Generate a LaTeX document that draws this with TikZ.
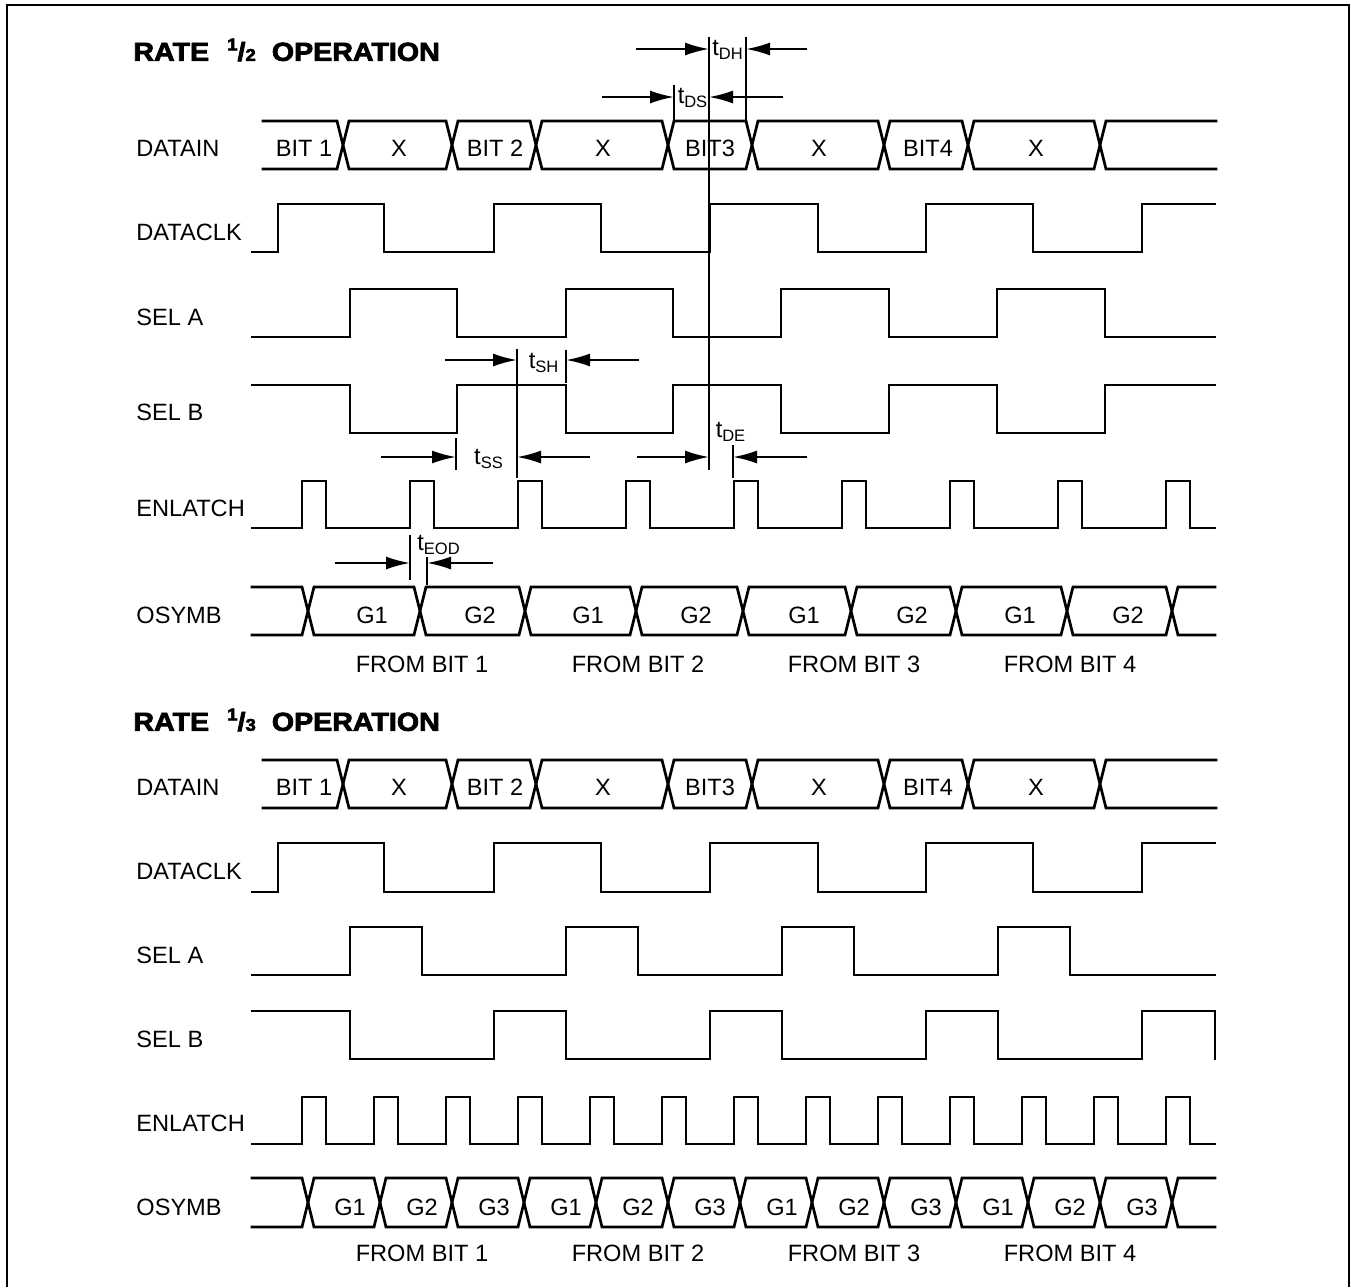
\documentclass[tikz,border=0pt]{standalone}
\usepackage{fontspec}
\setmainfont{Liberation Sans}
\newfontfamily\headfont{Liberation Sans}[BoldFeatures={FakeBold=3,FakeStretch=1.1}]
\usetikzlibrary{arrows.meta}

\begin{document}
\begin{tikzpicture}[x=0.5pt, y=-0.5pt, >={Latex[length=12pt,width=6.5pt]}]
\tikzstyle{sig}=[line width=1.35pt, line cap=rect]
\tikzstyle{tickline}=[line width=0.7pt]
\tikzstyle{dim}=[->, line width=1pt]
\tikzstyle{siglabel}=[anchor=west, inner sep=0pt, font=\fontsize{11.8}{13}\selectfont]
\tikzstyle{buslabel}=[inner sep=0pt, font=\fontsize{11.8}{13}\selectfont]
\tikzstyle{tlab}=[inner sep=0pt, font=\fontsize{11.8}{13}\selectfont]
\tikzstyle{ratehead}=[anchor=west, inner sep=0pt, font=\headfont\bfseries\fontsize{13}{15}\selectfont]

\useasboundingbox (0,0) rectangle (1351,1287);
\draw[line width=1pt] (7,1287) -- (7,5) -- (1349,5) -- (1349,1287);

\node[ratehead] (head1) at (133,50) {RATE\hspace{9pt}\raisebox{0.4em}{\fontsize{8.5}{9}\selectfont 1}/{\fontsize{8.5}{9}\selectfont 2}\hspace{8pt}OPERATION};
\node[ratehead] (head2) at (133,720) {RATE\hspace{9pt}\raisebox{0.4em}{\fontsize{8.5}{9}\selectfont 1}/{\fontsize{8.5}{9}\selectfont 3}\hspace{8pt}OPERATION};

\node[siglabel] (din1)  at (136,148) {DATAIN};
\node[siglabel] (dclk1) at (136,232) {DATACLK};
\node[siglabel] (sela1) at (136,317) {SEL A};
\node[siglabel] (selb1) at (136,412) {SEL B};
\node[siglabel] (enl1)  at (136,508) {ENLATCH};
\node[siglabel] (osym1) at (136,615) {OSYMB};
\node[siglabel] (din2)  at (136,787) {DATAIN};
\node[siglabel] (dclk2) at (136,871) {DATACLK};
\node[siglabel] (sela2) at (136,955) {SEL A};
\node[siglabel] (selb2) at (136,1039) {SEL B};
\node[siglabel] (enl2)  at (136,1123) {ENLATCH};
\node[siglabel] (osym2) at (136,1207) {OSYMB};

\draw[sig] (263,121) \foreach \c/\d in {343/452,536/668,752/884,968/1100} { -- (\c-6,121) -- (\c+6,169) -- (\d-6,169) -- (\d+6,121) } -- (1216,121);
\draw[sig] (263,169) \foreach \c/\d in {343/452,536/668,752/884,968/1100} { -- (\c-6,169) -- (\c+6,121) -- (\d-6,121) -- (\d+6,169) } -- (1216,169);
\draw[sig] (252,252) -| (278,204) -| (384,252) -| (494,204) -| (601,252) -| (710,204) -| (818,252) -| (926,204) -| (1033,252) -| (1142,204) -- (1215,204);
\draw[sig] (252,337) -| (350,289) -| (457,337) -| (566,289) -| (673,337) -| (781,289) -| (889,337) -| (997,289) -| (1105,337) -- (1215,337);
\draw[sig] (252,385) -| (350,433) -| (457,385) -| (566,433) -| (673,385) -| (781,433) -| (889,385) -| (997,433) -| (1105,385) -- (1215,385);
\draw[sig] (252,528) \foreach \p in {302,410,...,1166} { -| (\p,481) -| (\p+24,528) } -- (1215,528);
\draw[sig] (252,587) \foreach \c/\d in {308/420,525/636,743/851,956/1067} { -- (\c-6,587) -- (\c+6,635) -- (\d-6,635) -- (\d+6,587) } -- (1166,587) -- (1178,635) -- (1215,635);
\draw[sig] (252,635) \foreach \c/\d in {308/420,525/636,743/851,956/1067} { -- (\c-6,635) -- (\c+6,587) -- (\d-6,587) -- (\d+6,635) } -- (1166,635) -- (1178,587) -- (1215,587);

\draw[sig] (263,760) \foreach \c/\d in {343/452,536/668,752/884,968/1100} { -- (\c-6,760) -- (\c+6,808) -- (\d-6,808) -- (\d+6,760) } -- (1216,760);
\draw[sig] (263,808) \foreach \c/\d in {343/452,536/668,752/884,968/1100} { -- (\c-6,808) -- (\c+6,760) -- (\d-6,760) -- (\d+6,808) } -- (1216,808);
\draw[sig] (252,892) -| (278,843) -| (384,892) -| (494,843) -| (601,892) -| (710,843) -| (818,892) -| (926,843) -| (1033,892) -| (1142,843) -- (1215,843);
\draw[sig] (252,975) -| (350,927) -| (422,975) -| (566,927) -| (638,975) -| (782,927) -| (854,975) -| (998,927) -| (1070,975) -- (1215,975);
\draw[sig] (252,1011) -| (350,1059) -| (494,1011) -| (566,1059) -| (710,1011) -| (782,1059) -| (926,1011) -| (998,1059) -| (1142,1011) -| (1215,1059);
\draw[sig] (252,1144) \foreach \p in {302,374,...,1166} { -| (\p,1097) -| (\p+24,1144) } -- (1215,1144);
\draw[sig] (252,1178) \foreach \c in {308,452,...,1028} { -- (\c-6,1178) -- (\c+6,1227) -- (\c+66,1227) -- (\c+78,1178) } -- (1166,1178) -- (1178,1227) -- (1215,1227);
\draw[sig] (252,1227) \foreach \c in {308,452,...,1028} { -- (\c-6,1227) -- (\c+6,1178) -- (\c+66,1178) -- (\c+78,1227) } -- (1166,1227) -- (1178,1178) -- (1215,1178);

\foreach \x/\t [count=\i] in {304/BIT 1,399/X,495/BIT 2,603/X,710/BIT3,819/X,928/BIT4,1036/X} {
  \node[buslabel] (din1v\i) at (\x,148) {\t};
  \node[buslabel] (din2v\i) at (\x,787) {\t};
}
\foreach \k in {0,...,7} {
  \pgfmathtruncatemacro\g{mod(\k,2)+1}
  \node[buslabel] (os1g\k) at (372+108*\k,615) {G\g};
}
\foreach \k in {0,...,11} {
  \pgfmathtruncatemacro\g{mod(\k,3)+1}
  \node[buslabel] (os2g\k) at (350+72*\k,1207) {G\g};
}
\foreach \k in {1,...,4} {
  \node[buslabel] (fb1\k) at (206+216*\k,664) {FROM BIT \k};
  \node[buslabel] (fb2\k) at (206+216*\k,1253) {FROM BIT \k};
}

\coordinate (L1) at (709,37); \coordinate (L2) at (709,470);
\draw[tickline] (L1) -- (L2);

\coordinate (dhR1) at (746,37); \coordinate (dhR2) at (746,120);
\coordinate (dhA) at (636,49); \coordinate (dhB) at (807,49);
\draw[tickline] (dhR1) -- (dhR2);
\draw[dim] (dhA) -- (dhA -| L1);
\draw[dim] (dhB) -- (dhB -| dhR1);
\node[tlab] (tdh) at (728,50) {t\textsubscript{DH}};

\coordinate (dsL1) at (674,85); \coordinate (dsL2) at (674,120);
\coordinate (dsA) at (602,97); \coordinate (dsB) at (783,97);
\draw[tickline] (dsL1) -- (dsL2);
\draw[dim] (dsA) -- (dsA -| dsL1);
\draw[dim] (dsB) -- (dsB -| L1);
\node[tlab] (tds) at (693,98) {t\textsubscript{DS}};

\coordinate (shL1) at (517,349); \coordinate (shL2) at (517,478);
\coordinate (shR1) at (566,350); \coordinate (shR2) at (566,383);
\coordinate (shA) at (445,360); \coordinate (shB) at (639,360);
\draw[tickline] (shL1) -- (shL2);
\draw[tickline] (shR1) -- (shR2);
\draw[dim] (shA) -- (shA -| shL1);
\draw[dim] (shB) -- (shB -| shR1);
\node[tlab] (tsh) at (544,363) {t\textsubscript{SH}};

\coordinate (ssL1) at (456,438); \coordinate (ssL2) at (456,470);
\coordinate (ssA) at (381,457); \coordinate (ssB) at (590,457);
\draw[tickline] (ssL1) -- (ssL2);
\draw[dim] (ssA) -- (ssA -| ssL1);
\draw[dim] (ssB) -- (ssB -| shL1);
\node[tlab] (tss) at (489,459) {t\textsubscript{SS}};

\coordinate (deR1) at (733,445); \coordinate (deR2) at (733,478);
\coordinate (deA) at (637,457); \coordinate (deB) at (807,457);
\draw[tickline] (deR1) -- (deR2);
\draw[dim] (deA) -- (deA -| L1);
\draw[dim] (deB) -- (deB -| deR1);
\node[tlab] (tde) at (731,432) {t\textsubscript{DE}};

\coordinate (eoL1) at (410,535); \coordinate (eoL2) at (410,580);
\coordinate (eoR1) at (427,557); \coordinate (eoR2) at (427,585);
\coordinate (eoA) at (335,563); \coordinate (eoB) at (493,563);
\draw[tickline] (eoL1) -- (eoL2);
\draw[tickline] (eoR1) -- (eoR2);
\draw[dim] (eoA) -- (eoA -| eoL1);
\draw[dim] (eoB) -- (eoB -| eoR1);
\node[tlab] (teod) at (439,545) {t\textsubscript{EOD}};
\end{tikzpicture}
\end{document}
